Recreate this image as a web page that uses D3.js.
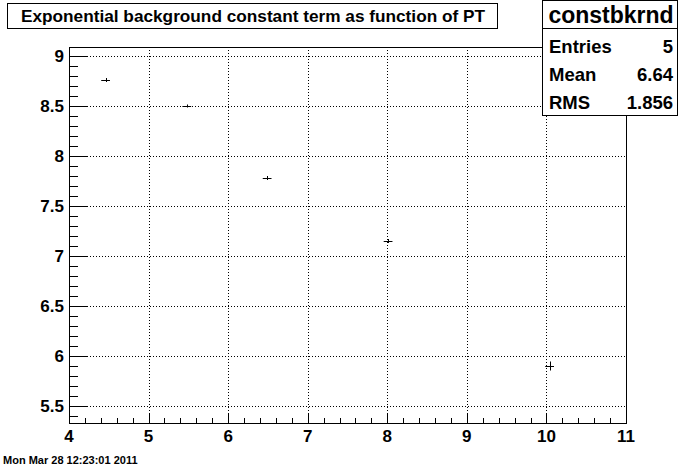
<!DOCTYPE html>
<html><head><meta charset="utf-8">
<script src="https://cdn.jsdelivr.net/npm/d3@7"></script>
<style>body{margin:0;background:#fff}svg{display:block}text{font-family:"Liberation Sans",Arial,sans-serif;font-weight:bold}</style>
</head><body><svg id="c" width="696" height="472"></svg>
<script>
const ptValues = [4.46, 5.48, 6.49, 8.01, 10.04];
const ptErrors = [0.055, 0.055, 0.055, 0.055, 0.055];
const constValues = [8.76, 8.50, 7.78, 7.15, 5.90];
const constErrors = [0.015, 0.01, 0.015, 0.015, 0.04];
const xTicks = [4, 5, 6, 7, 8, 9, 10, 11];
const yTicks = [5.5, 6, 6.5, 7, 7.5, 8, 8.5, 9];
const titleText = "Exponential background constant term as function of PT";
const statsName = "constbkrnd";
const statsLabels = ["Entries", "Mean", "RMS"];
const statsValues = ["5", "6.64", "1.856"];
const dateText = "Mon Mar 28 12:23:01 2011";

const svg = d3.select("#c");
const L = 69, R = 626, T = 47, B = 423;
const x = d3.scaleLinear().domain([4, 11]).range([L, R]);
const y = d3.scaleLinear().domain([5.33, 9.09]).range([B, T]);

// grid
const g = svg.append("g");
g.selectAll(".gx").data(xTicks.filter(d => d > 4 && d < 11)).enter().append("line")
  .attr("x1", d => Math.round(x(d)) + 0.5).attr("x2", d => Math.round(x(d)) + 0.5)
  .attr("y1", T).attr("y2", B).attr("stroke", "#000").attr("stroke-dasharray", "1,2");
g.selectAll(".gy").data(yTicks).enter().append("line")
  .attr("y1", d => Math.round(y(d)) + 0.5).attr("y2", d => Math.round(y(d)) + 0.5)
  .attr("x1", L).attr("x2", R).attr("stroke", "#000").attr("stroke-dasharray", "1,2");

// frame
svg.append("rect").attr("x", L + 0.5).attr("y", T + 0.5).attr("width", R - L).attr("height", B - T)
  .attr("fill", "none").attr("stroke", "#000");

// x axis ticks
const xMinor = d3.range(40, 111, 2).map(d => d / 10);
svg.append("g").selectAll("line").data(xMinor).enter().append("line")
  .attr("x1", d => Math.round(x(d)) + 0.5).attr("x2", d => Math.round(x(d)) + 0.5)
  .attr("y1", B).attr("y2", d => Math.abs(d - Math.round(d)) < 1e-6 ? B - 10 : B - 5)
  .attr("stroke", "#000");
svg.append("g").selectAll("text").data(xTicks).enter().append("text")
  .attr("x", d => x(d)).attr("y", 442).attr("text-anchor", "middle")
  .attr("font-size", 17).text(d => d);

// y axis ticks
const yMinor = d3.range(54, 91, 1).map(d => d / 10);
svg.append("g").selectAll("line").data(yMinor).enter().append("line")
  .attr("y1", d => Math.round(y(d)) + 0.5).attr("y2", d => Math.round(y(d)) + 0.5)
  .attr("x1", L).attr("x2", d => Math.abs(d * 2 - Math.round(d * 2)) < 1e-6 ? L + 18 : L + 9)
  .attr("stroke", "#000");
svg.append("g").selectAll("text").data(yTicks).enter().append("text")
  .attr("x", 64).attr("y", d => y(d) + 6).attr("text-anchor", "end")
  .attr("font-size", 17).text(d => d);

// data points
const pts = svg.append("g");
constValues.forEach((v, i) => {
  pts.append("line").attr("x1", x(ptValues[i] - ptErrors[i])).attr("x2", x(ptValues[i] + ptErrors[i]))
    .attr("y1", Math.round(y(v)) + 0.5).attr("y2", Math.round(y(v)) + 0.5).attr("stroke", "#000");
  pts.append("line").attr("x1", Math.round(x(ptValues[i])) + 0.5).attr("x2", Math.round(x(ptValues[i])) + 0.5)
    .attr("y1", y(v - constErrors[i]) + 0.5).attr("y2", y(v + constErrors[i]) - 0.5).attr("stroke", "#000");
});

// title box
svg.append("rect").attr("x", 7.5).attr("y", 3.5).attr("width", 490).attr("height", 25)
  .attr("fill", "#fff").attr("stroke", "#000");
svg.append("text").attr("x", 21).attr("y", 22).attr("font-size", 16.5)
  .attr("textLength", 464).attr("lengthAdjust", "spacingAndGlyphs").text(titleText);

// stats box
const sx = 542.5, sw = 135;
svg.append("rect").attr("x", sx).attr("y", 0.5).attr("width", sw).attr("height", 115)
  .attr("fill", "#fff").attr("stroke", "#000");
svg.append("line").attr("x1", sx).attr("x2", sx + sw).attr("y1", 28.5).attr("y2", 28.5).attr("stroke", "#000");
svg.append("text").attr("x", sx + sw / 2 + 1).attr("y", 23).attr("text-anchor", "middle")
  .attr("font-size", 23).text(statsName);
statsLabels.forEach((lab, i) => {
  svg.append("text").attr("x", 549).attr("y", 52.5 + i * 28).attr("font-size", 18.5).text(lab);
  svg.append("text").attr("x", 673).attr("y", 52.5 + i * 28).attr("text-anchor", "end").attr("font-size", 18.5).text(statsValues[i]);
});

// date
svg.append("text").attr("x", 3).attr("y", 464).attr("font-size", 11).text(dateText);
</script></body></html>
